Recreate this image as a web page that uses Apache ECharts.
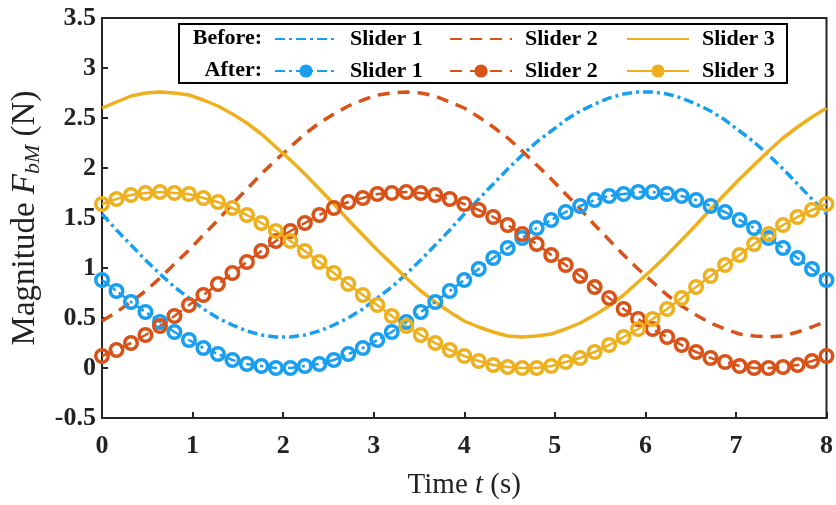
<!DOCTYPE html>
<html>
<head>
<meta charset="utf-8">
<script src="https://cdn.jsdelivr.net/npm/echarts@6/dist/echarts.min.js"></script>
<style>
html,body{margin:0;padding:0;background:#fff;}
#chart{width:836px;height:505px;}
</style>
</head>
<body>
<div id="chart"></div>
<script>
// Time samples (s)
const time = [0,0.16,0.32,0.48,0.64,0.8,0.96,1.12,1.28,1.44,1.6,1.76,1.92,2.08,2.24,2.4,2.56,2.72,2.88,3.04,3.2,3.36,3.52,3.68,3.84,4,4.16,4.32,4.48,4.64,4.8,4.96,5.12,5.28,5.44,5.6,5.76,5.92,6.08,6.24,6.4,6.56,6.72,6.88,7.04,7.2,7.36,7.52,7.68,7.84,8];

// Before
const before1 = [1.54,1.38,1.23,1.08,0.94,0.81,0.70,0.59,0.50,0.43,0.37,0.33,0.31,0.31,0.33,0.37,0.43,0.50,0.59,0.70,0.81,0.94,1.08,1.23,1.38,1.54,1.69,1.84,1.99,2.13,2.26,2.37,2.48,2.57,2.64,2.70,2.74,2.76,2.76,2.74,2.70,2.64,2.57,2.48,2.37,2.26,2.13,1.99,1.84,1.69,1.54];
const before2 = [0.47,0.56,0.66,0.77,0.90,1.04,1.18,1.33,1.48,1.64,1.79,1.94,2.08,2.21,2.34,2.45,2.54,2.62,2.68,2.73,2.75,2.76,2.75,2.72,2.66,2.60,2.51,2.41,2.30,2.17,2.03,1.89,1.74,1.59,1.43,1.28,1.13,0.99,0.86,0.73,0.62,0.53,0.45,0.39,0.34,0.32,0.31,0.32,0.36,0.41,0.47];
const before3 = [2.60,2.66,2.72,2.75,2.76,2.75,2.73,2.68,2.62,2.54,2.45,2.34,2.21,2.08,1.94,1.79,1.64,1.48,1.33,1.18,1.04,0.90,0.77,0.66,0.56,0.47,0.41,0.36,0.32,0.31,0.32,0.34,0.39,0.45,0.53,0.62,0.73,0.86,0.99,1.13,1.28,1.43,1.59,1.74,1.89,2.03,2.17,2.30,2.41,2.51,2.60];

// After
const after1 = [0.88,0.77,0.66,0.56,0.46,0.36,0.28,0.20,0.14,0.08,0.04,0.02,0.00,0.00,0.02,0.04,0.08,0.14,0.20,0.28,0.36,0.46,0.56,0.66,0.77,0.88,0.99,1.10,1.20,1.30,1.40,1.48,1.56,1.62,1.68,1.72,1.74,1.76,1.76,1.74,1.72,1.68,1.62,1.56,1.48,1.40,1.30,1.20,1.10,0.99,0.88];
const after2 = [0.12,0.18,0.25,0.33,0.42,0.52,0.63,0.73,0.84,0.95,1.06,1.17,1.27,1.37,1.45,1.53,1.60,1.66,1.70,1.74,1.75,1.76,1.75,1.73,1.69,1.64,1.58,1.51,1.43,1.34,1.24,1.13,1.03,0.92,0.81,0.70,0.59,0.49,0.39,0.31,0.23,0.16,0.10,0.06,0.02,0.00,0.00,0.01,0.03,0.07,0.12];
const after3 = [1.64,1.69,1.73,1.75,1.76,1.75,1.74,1.70,1.66,1.60,1.53,1.45,1.37,1.27,1.17,1.06,0.95,0.84,0.73,0.63,0.52,0.42,0.33,0.25,0.18,0.12,0.07,0.03,0.01,0.00,0.00,0.02,0.06,0.10,0.16,0.23,0.31,0.39,0.49,0.59,0.70,0.81,0.92,1.03,1.13,1.24,1.34,1.43,1.51,1.58,1.64];

const sliderNames = ['Slider 1','Slider 2','Slider 3'];
const colors = ['#1A9FF0','#D95319','#EDB120'];
const beforeDash = [[10,4,3,4],[12,8],'solid'];

const FONT = 'Liberation Serif';
const AX = '#262626';

function pairs(ys){ return time.map((t,i)=>[t,ys[i]]); }

const beforeData = [before1,before2,before3];
const afterData = [after1,after2,after3];

const series = [];
for (let k=0;k<3;k++){
  series.push({
    name:'Before: '+sliderNames[k], type:'line', data:pairs(beforeData[k]),
    symbol:'none', color:colors[k],
    lineStyle:{color:colors[k], width:3.5, type:beforeDash[k]},
    z:2, silent:true
  });
  series.push({
    name:'After: '+sliderNames[k], type:'line', data:pairs(afterData[k]),
    symbol:'circle', symbolSize:12.5, showAllSymbol:true, color:colors[k],
    itemStyle:{color:'rgba(255,255,255,0)', borderColor:colors[k], borderWidth:3.5},
    lineStyle:{color:colors[k], width:2.5, type:beforeDash[k]},
    z:3, silent:true
  });
}

const legends = [];
const iconX = [274,449,626];
for (let k=0;k<3;k++){
  ['Before','After'].forEach((row,r)=>{
    const lg = {
      data:[row+': '+sliderNames[k]],
      left:iconX[k], top: r===0 ? 28 : 60,
      padding:0, itemWidth:62, itemHeight:14,
      formatter:(n)=>n.replace(/^(Before|After): /,''),
      textStyle:{fontFamily:FONT, fontWeight:'bold', fontSize:22, color:'#000', padding:[0,0,0,8]},
      selectedMode:false, z:6
    };
    if (r===0) lg.itemStyle = {opacity:0};
    else lg.itemStyle = {color:colors[k], borderColor:colors[k], borderWidth:2};
    legends.push(lg);
  });
}

const chart = echarts.init(document.getElementById('chart'), null, {renderer:'canvas'});
chart.setOption({
  animation:false,
  backgroundColor:'#fff',
  grid:{left:102, right:7, top:18, bottom:85, show:true, borderColor:AX, borderWidth:2, backgroundColor:'rgba(0,0,0,0)'},
  xAxis:{
    type:'value', min:0, max:8, interval:1,
    name:'{a|Time }{i|t}{a| (s)}', nameLocation:'middle', nameGap:53,
    nameTextStyle:{rich:{a:{fontFamily:FONT, fontSize:29, color:'#222'}, i:{fontFamily:FONT, fontSize:29, fontStyle:'italic', color:'#222'}}},
    axisLine:{show:true, onZero:false, lineStyle:{color:AX, width:2}},
    axisTick:{show:true, inside:true, length:6, lineStyle:{color:AX, width:2}},
    axisLabel:{fontFamily:FONT, fontWeight:'bold', fontSize:26, color:'#222', margin:15},
    splitLine:{show:false}
  },
  yAxis:{
    type:'value', min:-0.5, max:3.5, interval:0.5,
    name:'{a|Magnitude }{i|F}{s|bM}{a| (N)}', nameLocation:'middle', nameGap:54, nameRotate:90,
    nameTextStyle:{rich:{
      a:{fontFamily:FONT, fontSize:33, color:'#222', lineHeight:38},
      i:{fontFamily:FONT, fontSize:33, fontStyle:'italic', color:'#222', lineHeight:38},
      s:{fontFamily:FONT, fontSize:22, fontStyle:'italic', color:'#222', lineHeight:38, verticalAlign:'bottom', padding:[11,0,0,0]}
    }},
    axisLine:{show:true, onZero:false, lineStyle:{color:AX, width:2}},
    axisTick:{show:true, inside:true, length:6, lineStyle:{color:AX, width:2}},
    axisLabel:{fontFamily:FONT, fontWeight:'bold', fontSize:26, color:'#222', margin:6},
    splitLine:{show:false}
  },
  legend:legends,
  graphic:[
    {type:'rect', left:178, top:23, z:5, shape:{width:608, height:59}, style:{fill:'#fff', stroke:'#000', lineWidth:2}},
    {type:'text', right:836-262, top:27, z:6, style:{text:'Before:', font:'bold 22px "Liberation Serif"', fill:'#000', textAlign:'right'}},
    {type:'text', right:836-262, top:59, z:6, style:{text:'After:', font:'bold 22px "Liberation Serif"', fill:'#000', textAlign:'right'}}
  ],
  series:series
});
</script>
</body>
</html>
